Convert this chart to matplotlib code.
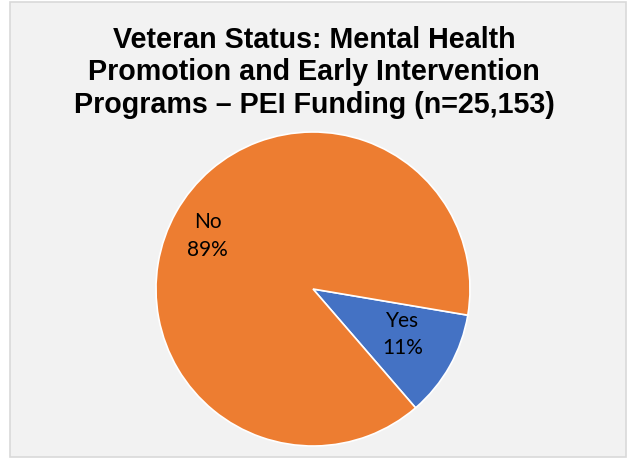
import numpy as np
import matplotlib.pyplot as plt
from matplotlib.patches import Rectangle

# Data
labels = ['Yes', 'No']
values = [11, 89]
colors = ['#4472C4', '#ED7D31']
label_dist = [0.64, 0.75]

title = 'Veteran Status: Mental Health\nPromotion and Early Intervention\nPrograms \u2013 PEI Funding (n=25,153)'

fig = plt.figure(figsize=(6.28, 4.58), dpi=100)
fig.patch.set_facecolor('white')

# chart area background with light border
fig.patches.append(Rectangle((10 / 628, 1 / 458), 616 / 628, 455 / 458,
                             transform=fig.transFigure, facecolor='#F2F2F2',
                             edgecolor='#D9D9D9', linewidth=1.2, zorder=-1))

# pie axes: center (313, 289), radius ~157 px
ax = fig.add_axes([(313 - 157) / 628, (458 - 289 - 157) / 458, 314 / 628, 314 / 458])
ax.set_facecolor('none')
ax.set_zorder(2)

wedges, _ = ax.pie(values, colors=colors, startangle=-9.6, counterclock=False,
                   wedgeprops=dict(edgecolor='white', linewidth=1.2))
ax.set_xlim(-1, 1)
ax.set_ylim(-1, 1)
ax.set_aspect('equal')

# data labels, nudged slightly like Excel's best-fit placement
for w, lab, v, d in zip(wedges, labels, values, label_dist):
    mid = np.deg2rad((w.theta1 + w.theta2) / 2 + 2.7)
    ax.text(d * np.cos(mid), d * np.sin(mid), f'{lab}\n{v}%', ha='center', va='center',
            fontsize=15, family=['Lato', 'DejaVu Sans'], color='black', linespacing=1.45)

fig.text(0.5, 1 - 26 / 458, title, ha='center', va='top', fontsize=20.6, fontweight='bold',
         family=['Liberation Sans', 'DejaVu Sans'], linespacing=1.2)

fig.savefig('out.png', dpi=100)
